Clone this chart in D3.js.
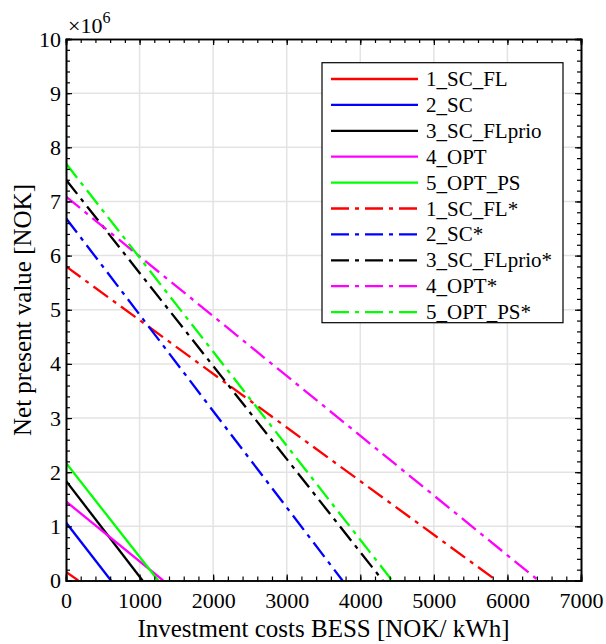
<!DOCTYPE html>
<html>
<head>
<meta charset="utf-8">
<script src="https://cdn.jsdelivr.net/npm/d3@7"></script>
<style>
  html, body { margin: 0; padding: 0; background: #fff; }
  svg { display: block; }
  svg text { font-family: "Liberation Serif", "DejaVu Serif", serif !important; fill: #000; }
</style>
</head>
<body>
<svg id="chart" width="606" height="644"></svg>
<script>
// ---- data ----
const seriesNames = ["1_SC_FL", "2_SC", "3_SC_FLprio", "4_OPT", "5_OPT_PS",
                     "1_SC_FL*", "2_SC*", "3_SC_FLprio*", "4_OPT*", "5_OPT_PS*"];
// Net present value at zero investment cost [NOK]
const npvAtZeroCost = [0.16e6, 1.07e6, 1.84e6, 1.46e6, 2.17e6,
                       5.80e6, 6.69e6, 7.40e6, 7.09e6, 7.70e6];
// Investment cost where NPV reaches zero [NOK/kWh]
const breakEvenCost = [167, 611, 1040, 1320, 1253,
                       5852, 3758, 4305, 6422, 4433];
const seriesColors = ["#ff0000", "#0000ff", "#000000", "#ff00ff", "#00ff00",
                      "#ff0000", "#0000ff", "#000000", "#ff00ff", "#00ff00"];
const seriesDashed = [false, false, false, false, false, true, true, true, true, true];

const xTicks = [0, 1000, 2000, 3000, 4000, 5000, 6000, 7000];
const yTicks = [0, 1, 2, 3, 4, 5, 6, 7, 8, 9, 10]; // x 10^6

// ---- layout ----
const FONT = '"Liberation Serif", serif';
const svg = d3.select("#chart");
const L = 66, R = 581, T = 39, B = 580.5;
const x = d3.scaleLinear().domain([0, 7000]).range([L, R]);
const y = d3.scaleLinear().domain([0, 10e6]).range([B, T]);

// grid
const grid = svg.append("g");
grid.selectAll("line.gx").data(xTicks.slice(1, -1)).join("line")
  .attr("x1", d => x(d)).attr("x2", d => x(d)).attr("y1", T).attr("y2", B)
  .attr("stroke", "#e3e3e3").attr("stroke-width", 1.5);
grid.selectAll("line.gy").data(yTicks.slice(1, -1)).join("line")
  .attr("y1", d => y(d * 1e6)).attr("y2", d => y(d * 1e6)).attr("x1", L).attr("x2", R)
  .attr("stroke", "#e3e3e3").attr("stroke-width", 1.5);

// clip
svg.append("clipPath").attr("id", "clip").append("rect")
  .attr("x", L).attr("y", T).attr("width", R - L).attr("height", B - T);

// lines
const lineGen = d3.line().x(d => x(d[0])).y(d => y(d[1]));
const data = seriesNames.map((n, i) => ({
  name: n, color: seriesColors[i], dashed: seriesDashed[i],
  pts: [[0, npvAtZeroCost[i]], [breakEvenCost[i], 0]]
}));
svg.append("g").attr("clip-path", "url(#clip)")
  .selectAll("path").data(data).join("path")
  .attr("d", d => lineGen(d.pts))
  .attr("fill", "none")
  .attr("stroke", d => d.color)
  .attr("stroke-width", 2.3)
  .attr("stroke-dasharray", d => d.dashed ? "18,6,4,6" : null);

// axes (ticks inward, on all four sides)
const xMinor = d3.range(0, 7001, 200);
const yMinor = d3.range(0, 10.001, 0.2).map(v => v * 1e6);
const axBottom = d3.axisBottom(x).tickValues(xMinor).tickSize(-4).tickFormat("");
const axTop = d3.axisTop(x).tickValues(xMinor).tickSize(-4).tickFormat("");
const axLeft = d3.axisLeft(y).tickValues(yMinor).tickSize(-4).tickFormat("");
const axRight = d3.axisRight(y).tickValues(yMinor).tickSize(-4).tickFormat("");
const axMajB = d3.axisBottom(x).tickValues(xTicks).tickSize(-6).tickPadding(12).tickFormat(d3.format("d"));
const axMajT = d3.axisTop(x).tickValues(xTicks).tickSize(-6).tickFormat("");
const axMajL = d3.axisLeft(y).tickValues(yTicks.map(v => v * 1e6)).tickSize(-6).tickPadding(5).tickFormat(d => d / 1e6);
const axMajR = d3.axisRight(y).tickValues(yTicks.map(v => v * 1e6)).tickSize(-6).tickFormat("");

function styleAxis(g) {
  g.attr("font-family", FONT).attr("font-size", 22);
  g.selectAll("path.domain").attr("stroke", "#000").attr("stroke-width", 1.6);
  g.selectAll(".tick line").attr("stroke", "#000").attr("stroke-width", 1.2);
  g.selectAll(".tick text").style("font-family", FONT).style("font-size", "22px").attr("fill", "#000");
}
svg.append("g").attr("transform", `translate(0,${B})`).call(axBottom).call(styleAxis);
svg.append("g").attr("transform", `translate(0,${T})`).call(axTop).call(styleAxis);
svg.append("g").attr("transform", `translate(${L},0)`).call(axLeft).call(styleAxis);
svg.append("g").attr("transform", `translate(${R},0)`).call(axRight).call(styleAxis);
svg.append("g").attr("transform", `translate(0,${B})`).call(axMajB).call(styleAxis);
svg.append("g").attr("transform", `translate(0,${T})`).call(axMajT).call(styleAxis);
svg.append("g").attr("transform", `translate(${L},0)`).call(axMajL).call(styleAxis);
svg.append("g").attr("transform", `translate(${R},0)`).call(axMajR).call(styleAxis);

// exponent label
const ex = svg.append("text").attr("x", 68).attr("y", 33).style("font-size", "22px");
ex.append("tspan").text("\u00d710");
ex.append("tspan").style("font-size", "16px").attr("dy", -10).text("6");

// axis titles
svg.append("text").attr("x", (L + R) / 2).attr("y", 637)
  .attr("text-anchor", "middle").style("font-size", "25px")
  .text("Investment costs BESS [NOK/ kWh]");
svg.append("text").attr("transform", `translate(31,310) rotate(-90)`)
  .attr("text-anchor", "middle").style("font-size", "25px")
  .text("Net present value [NOK]");

// legend
const lg = svg.append("g");
lg.append("rect").attr("x", 322).attr("y", 62.7).attr("width", 241).attr("height", 260)
  .attr("fill", "#fff").attr("stroke", "#000").attr("stroke-width", 1.2);
const items = lg.selectAll("g.item").data(data).join("g")
  .attr("transform", (d, i) => `translate(0,${79 + i * 25.9})`);
items.append("line").attr("x1", 331).attr("x2", 418).attr("y1", 0).attr("y2", 0)
  .attr("stroke", d => d.color).attr("stroke-width", 2.3)
  .attr("stroke-dasharray", d => d.dashed ? "18,6,4,6" : null);
items.append("text").attr("x", 426).attr("y", 7).style("font-size", "21px").text(d => d.name);
</script>
</body>
</html>
